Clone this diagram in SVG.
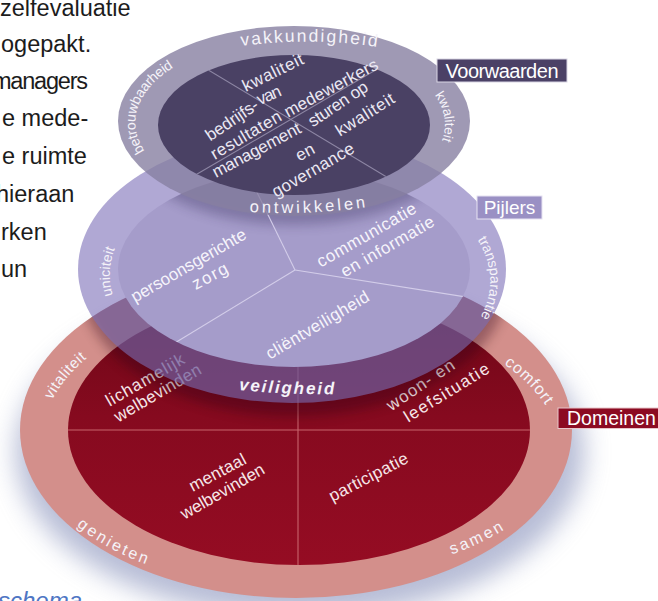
<svg xmlns="http://www.w3.org/2000/svg" width="658" height="601" viewBox="0 0 658 601">
<defs>
<style>
text{font-family:"Liberation Sans",Arial,sans-serif}
.para{font-size:23.5px;fill:#1c1c1c}
.in{font-size:17px;text-anchor:middle}
.tw{fill:#ebe8f3}
.mw{fill:#f6f4fb}
.rw{fill:#f6e6e8}
.ring{fill:#f5f3f9;text-anchor:middle}
.lbl{fill:#ffffff}
.ln{fill:none;stroke-width:1.1}
</style>
<filter id="b12" x="-30%" y="-40%" width="160%" height="180%"><feGaussianBlur stdDeviation="13"/></filter>
<filter id="b6" x="-30%" y="-40%" width="160%" height="180%"><feGaussianBlur stdDeviation="6"/></filter>
<clipPath id="cTop"><ellipse cx="294" cy="125" rx="136" ry="70"/></clipPath>
<clipPath id="cMid"><ellipse cx="294" cy="269" rx="176" ry="98"/></clipPath>
<clipPath id="cRed"><ellipse cx="299" cy="430" rx="231" ry="135"/></clipPath>
<clipPath id="cRedOut"><ellipse cx="296" cy="430" rx="276" ry="168"/></clipPath>
<linearGradient id="gRed" x1="0" y1="0" x2="0" y2="1">
<stop offset="0" stop-color="#6c0716"/><stop offset=".45" stop-color="#860a1f"/><stop offset="1" stop-color="#950c23"/>
</linearGradient>
<path id="pVak" d="M242,46 A250,130 0 0 1 378,47"/>
<path id="pBet" d="M150,158 A160,85 0 0 1 181,63"/>
<path id="pKwa" d="M433,93 A155,82 0 0 1 441,143"/>
<path id="pOnt" d="M250,212 A300,150 0 0 0 368,207"/>
<path id="pUni" d="M113,296 A195,116 0 0 1 115,248"/>
<path id="pTra" d="M477,239 A195,116 0 0 1 480,318"/>
<path id="pVei" d="M239,390 A400,200 0 0 0 336,394"/>
<path id="pVit" d="M52,400 A253,152 0 0 1 87,358"/>
<path id="pCom" d="M504,364 A253,152 0 0 1 546,406"/>
<path id="pGen" d="M77,526 A253,152 0 0 0 148,565"/>
<path id="pSam" d="M453,554 A253,152 0 0 0 505,529"/>
</defs>
<rect width="658" height="601" fill="#ffffff"/>

<g id="paragraph">
<text class="para" x="0" y="16">zelfevaluatie</text>
<text class="para" x="1" y="52">ogepakt.</text>
<text class="para" x="-8" y="89" textLength="96">managers</text>
<text class="para" x="2" y="126">e mede-</text>
<text class="para" x="2" y="164">e ruimte</text>
<text class="para" x="-4" y="202">hieraan</text>
<text class="para" x="1" y="240">rken</text>
<text class="para" x="1" y="277">un</text>
<text x="-2" y="609" font-size="24" font-style="italic" fill="#4f76c4">schema</text>
</g>

<g id="domeinen">
<ellipse cx="300" cy="452" rx="284" ry="166" fill="#9099c0" opacity=".65" filter="url(#b12)"/>
<ellipse cx="296" cy="430" rx="276" ry="168" fill="#d38f8b"/>
<ellipse cx="299" cy="430" rx="231" ry="135" fill="url(#gRed)"/>
<g clip-path="url(#cRed)" class="ln" stroke="#c8646c">
<line x1="60" y1="430" x2="540" y2="430"/><line x1="298" y1="290" x2="298" y2="570"/>
</g>
<g class="in rw">
<text transform="translate(145,380) rotate(-30)" dy=".33em" textLength="88">lichamelijk</text>
<text transform="translate(157.5,393) rotate(-30.5)" dy=".33em" textLength="98">welbevinden</text>
<text transform="translate(217.5,472.5) rotate(-28)" dy=".33em" textLength="62">mentaal</text>
<text transform="translate(222.5,491.5) rotate(-30)" dy=".33em" textLength="94">welbevinden</text>
<text transform="translate(420.5,385) rotate(-34)" dy=".33em" textLength="78">woon- en</text>
<text transform="translate(446.5,392.5) rotate(-31.6)" dy=".33em" textLength="97">leefsituatie</text>
<text transform="translate(368.5,477) rotate(-27.5)" dy=".33em" textLength="87">participatie</text>
</g>
<text class="ring" font-size="15" letter-spacing=".5"><textPath href="#pVit" startOffset="50%">vitaliteit</textPath></text>
<text class="ring" font-size="16" letter-spacing=".9"><textPath href="#pCom" startOffset="50%">comfort</textPath></text>
<text class="ring" font-size="16" letter-spacing="2.6"><textPath href="#pGen" startOffset="50%">genieten</textPath></text>
<text class="ring" font-size="16" letter-spacing="2.5"><textPath href="#pSam" startOffset="50%">samen</textPath></text>
</g>

<g id="pijlers">
<g clip-path="url(#cRedOut)"><ellipse cx="294" cy="282" rx="214" ry="134" fill="#2a0412" opacity=".35" filter="url(#b6)"/></g>
<ellipse cx="292" cy="269" rx="214" ry="134" fill="#7b6eb7" opacity=".6"/>
<ellipse cx="294" cy="269" rx="176" ry="98" fill="#a59cca"/>
<g clip-path="url(#cMid)"><ellipse cx="294" cy="130" rx="176" ry="95" fill="#2a2050" opacity=".3" filter="url(#b6)"/></g>
<g clip-path="url(#cMid)" class="ln" stroke="#d3cde9">
<line x1="295" y1="270" x2="250" y2="178"/><line x1="295" y1="270" x2="485" y2="300"/><line x1="295" y1="270" x2="160" y2="352"/>
</g>
<g class="in mw">
<text transform="translate(188.5,265.5) rotate(-30)" dy=".33em" textLength="130">persoonsgerichte</text>
<text transform="translate(210,276) rotate(-28)" dy=".33em" textLength="38">zorg</text>
<text transform="translate(366.5,235) rotate(-30)" dy=".33em" textLength="112">communicatie</text>
<text transform="translate(387.5,246.5) rotate(-30)" dy=".33em" textLength="105">en informatie</text>
<text transform="translate(317.5,325) rotate(-30.7)" dy=".33em" textLength="117">cliëntveiligheid</text>
</g>
<text class="ring" font-size="14"><textPath href="#pUni" startOffset="50%">uniciteit</textPath></text>
<text class="ring" font-size="14"><textPath href="#pTra" startOffset="50%">transparantie</textPath></text>
<text class="ring" font-size="17" font-weight="bold" font-style="italic" letter-spacing="1.9"><textPath href="#pVei" startOffset="50%">veiligheid</textPath></text>
</g>

<g id="voorwaarden">
<ellipse cx="294" cy="121" rx="176" ry="95" fill="#877fa1" opacity=".8"/>
<ellipse cx="294" cy="125" rx="136" ry="70" fill="#4a4164"/>
<g clip-path="url(#cTop)" class="ln" stroke="#8d86a4">
<line x1="180" y1="53" x2="410" y2="191"/><line x1="180" y1="184" x2="410" y2="50"/>
</g>
<g class="in tw">
<text transform="translate(273,72.5) rotate(-26)" dy=".33em" textLength="66">kwaliteit</text>
<text transform="translate(269,95) rotate(-24)" dy=".33em" textLength="25">van</text>
<text transform="translate(331,88) rotate(-28.5)" dy=".33em" textLength="104">medewerkers</text>
<text transform="translate(232,120) rotate(-34)" dy=".33em" textLength="60">bedrijfs-</text>
<text transform="translate(246,135) rotate(-30.5)" dy=".33em" textLength="79">resultaten</text>
<text transform="translate(338,104) rotate(-33.7)" dy=".33em" textLength="68">sturen op</text>
<text transform="translate(365,114.5) rotate(-32)" dy=".33em" textLength="66">kwaliteit</text>
<text transform="translate(256.5,150) rotate(-28)" dy=".33em" textLength="98">management</text>
<text transform="translate(305,152) rotate(-28)" dy=".33em" textLength="19">en</text>
<text transform="translate(313,170) rotate(-30)" dy=".33em" textLength="92">governance</text>
</g>
<text class="ring" font-size="17.5" letter-spacing="2"><textPath href="#pVak" startOffset="50%">vakkundigheid</textPath></text>
<text class="ring" font-size="14" letter-spacing="-.3"><textPath href="#pBet" startOffset="50%">betrouwbaarheid</textPath></text>
<text class="ring" font-size="13.5"><textPath href="#pKwa" startOffset="50%">kwaliteit</textPath></text>
<text class="ring" font-size="16.5" letter-spacing="3"><textPath href="#pOnt" startOffset="50%">ontwikkelen</textPath></text>
</g>

<g id="label-voorwaarden">
<rect x="437" y="59" width="130" height="23" fill="#4b4166" stroke="#d9d6e4" stroke-width="1"/>
<text class="lbl" x="502" y="77.5" font-size="20" text-anchor="middle" textLength="113">Voorwaarden</text>
</g>
<g id="label-pijlers">
<rect x="477" y="196" width="65" height="23" fill="#9a90c4" stroke="#e6e2f2" stroke-width="1"/>
<text class="lbl" x="509.5" y="214" font-size="19" text-anchor="middle">Pijlers</text>
</g>
<g id="label-domeinen">
<rect x="558" y="408" width="102" height="20.5" fill="#8c0b22" stroke="#e8c5c9" stroke-width="1"/>
<text class="lbl" x="567" y="425" font-size="19.5">Domeinen</text>
</g>
</svg>
